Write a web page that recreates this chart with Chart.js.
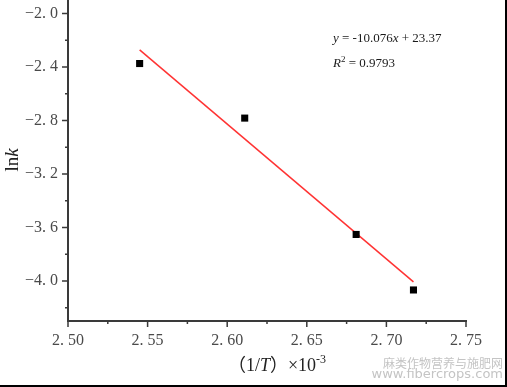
<!DOCTYPE html>
<html lang="zh">
<head>
<meta charset="UTF-8">
<title>lnk - 1/T</title>
<script src="https://cdn.jsdelivr.net/npm/chart.js"></script>
<style>
  html, body { margin: 0; padding: 0; background: #fff; }
  #wrap { width: 507px; height: 387px; }
</style>
</head>
<body>
<div id="wrap"><canvas id="arrhenius" width="507" height="387"></canvas></div>
<script>
// measured points: 1/T (x10^-3) and ln k
const invT = [2.545, 2.611, 2.681, 2.717];
const lnK = [-2.375, -2.783, -3.653, -4.068];

// ends of the fitted line (y = -10.076x + 23.37)
const fitX = [2.545, 2.717];
const fitY = [-2.273, -4.007];

// labelled ticks
const xTicks = [2.50, 2.55, 2.60, 2.65, 2.70, 2.75];
const yTicks = [-4.0, -3.6, -3.2, -2.8, -2.4, -2.0];

const SERIF = '"Liberation Serif", "Times New Roman", serif';

// minor ticks sit halfway between labelled ones
function withMinor(list, extraEnd) {
  const out = [];
  for (let i = 0; i < list.length; i++) {
    out.push(list[i]);
    if (i < list.length - 1) out.push((list[i] + list[i + 1]) / 2);
  }
  if (extraEnd !== undefined) out.unshift(extraEnd);
  return out;
}
const xAll = withMinor(xTicks);
const yAll = withMinor(yTicks, -4.2);

function isMajor(v, list) {
  return list.some(t => Math.abs(t - v) < 1e-6);
}

// draw a row of text pieces (italic / superscript) left to right
function drawRuns(ctx, runs, x, y, size, align) {
  const fontOf = r => (r.it ? 'italic ' : '') + (r.sup ? Math.round(size * 0.68) : size) + 'px ' + (r.cjk ? '"Noto Sans CJK SC", ' : '') + SERIF;
  let total = 0;
  runs.forEach(r => { ctx.font = fontOf(r); total += ctx.measureText(r.t).width; });
  let cx = align === 'center' ? x - total / 2 : x;
  ctx.textAlign = 'left';
  ctx.textBaseline = 'alphabetic';
  runs.forEach(r => {
    ctx.font = fontOf(r);
    ctx.fillText(r.t, cx, r.sup ? y - size * 0.42 : y);
    cx += ctx.measureText(r.t).width;
  });
}

const extras = {
  id: 'extras',
  afterDraw(chart) {
    const ctx = chart.ctx;
    const xs = chart.scales.x, ys = chart.scales.y;
    const area = chart.chartArea;
    ctx.save();

    // tick marks, pointing out of the plot
    ctx.strokeStyle = '#3a3a3a';
    ctx.lineWidth = 1.5;
    ctx.beginPath();
    xAll.forEach(v => {
      const px = xs.getPixelForValue(v);
      const len = isMajor(v, xTicks) ? 6 : 3;
      ctx.moveTo(px, area.bottom);
      ctx.lineTo(px, area.bottom + len);
    });
    yAll.forEach(v => {
      const py = ys.getPixelForValue(v);
      const len = isMajor(v, yTicks) ? 6 : 3;
      ctx.moveTo(area.left, py);
      ctx.lineTo(area.left - len, py);
    });
    ctx.stroke();

    // axis titles
    ctx.fillStyle = '#222';
    drawRuns(ctx, [{ t: '（', cjk: true }, { t: '1/' }, { t: 'T', it: true }, { t: '）', cjk: true }, { t: '×10' }, { t: '-3', sup: true }], 277, 371, 18, 'center');

    ctx.save();
    ctx.translate(18, 160);
    ctx.rotate(-Math.PI / 2);
    drawRuns(ctx, [{ t: 'ln' }, { t: 'k', it: true }], 0, 0, 19, 'center');
    ctx.restore();

    // fit equation
    ctx.fillStyle = '#1a1a1a';
    drawRuns(ctx, [{ t: 'y', it: true }, { t: ' = -10.076' }, { t: 'x', it: true }, { t: ' + 23.37' }], 333, 42, 13, 'left');
    drawRuns(ctx, [{ t: 'R', it: true }, { t: '2', sup: true }, { t: ' = 0.9793' }], 333, 67, 13, 'left');

    // site watermark
    ctx.fillStyle = '#c4c4c4';
    ctx.textAlign = 'right';
    ctx.textBaseline = 'middle';
    ctx.font = '12px "Noto Sans CJK SC"';
    ctx.fillText('麻类作物营养与施肥网', 503, 363);
    ctx.font = '13px "DejaVu Sans"';
    ctx.fillText('www.fibercrops.com', 503, 375);

    // picture frame on right and bottom
    ctx.strokeStyle = '#000';
    ctx.lineWidth = 2;
    ctx.beginPath();
    ctx.moveTo(506, 0);
    ctx.lineTo(506, 386);
    ctx.lineTo(0, 386);
    ctx.stroke();

    ctx.restore();
  }
};

const tickFont = { family: SERIF, size: 16 };

new Chart(document.getElementById('arrhenius'), {
  type: 'scatter',
  data: {
    datasets: [
      {
        label: 'lnk',
        data: invT.map((x, i) => ({ x: x, y: lnK[i] })),
        pointStyle: 'rect',
        pointRadius: 5,
        pointBackgroundColor: '#000',
        pointBorderWidth: 0,
        order: 0
      },
      {
        label: 'fit',
        type: 'line',
        data: fitX.map((x, i) => ({ x: x, y: fitY[i] })),
        borderColor: '#ff3333',
        borderWidth: 1.5,
        pointRadius: 0,
        fill: false,
        order: 1
      }
    ]
  },
  options: {
    responsive: false,
    animation: false,
    layout: { autoPadding: false, padding: { left: 0, right: 41, top: 0, bottom: 0 } },
    plugins: { legend: { display: false }, tooltip: { enabled: false } },
    scales: {
      x: {
        type: 'linear',
        min: 2.50,
        max: 2.75,
        grid: { display: false, drawTicks: false },
        border: { display: true, color: '#3a3a3a', width: 2 },
        afterBuildTicks: s => { s.ticks = xAll.map(v => ({ value: v })); },
        afterFit: s => { s.height = 66; s.paddingLeft = 0; s.paddingRight = 0; },
        ticks: {
          autoSkip: false,
          maxRotation: 0,
          padding: 10,
          color: '#4a4a4a',
          font: tickFont,
          callback: v => isMajor(v, xTicks) ? v.toFixed(2).replace('.', '. ') : ''
        }
      },
      y: {
        min: -4.3,
        max: -1.9,
        grid: { display: false, drawTicks: false },
        border: { display: true, color: '#3a3a3a', width: 2 },
        afterBuildTicks: s => { s.ticks = yAll.map(v => ({ value: v })); },
        afterFit: s => { s.width = 68; s.paddingTop = 0; s.paddingBottom = 0; },
        ticks: {
          autoSkip: false,
          padding: 10,
          color: '#4a4a4a',
          font: tickFont,
          callback: v => isMajor(v, yTicks) ? v.toFixed(1).replace('-', '\u2212').replace('.', '. ') : ''
        }
      }
    }
  },
  plugins: [extras]
});
</script>
</body>
</html>
